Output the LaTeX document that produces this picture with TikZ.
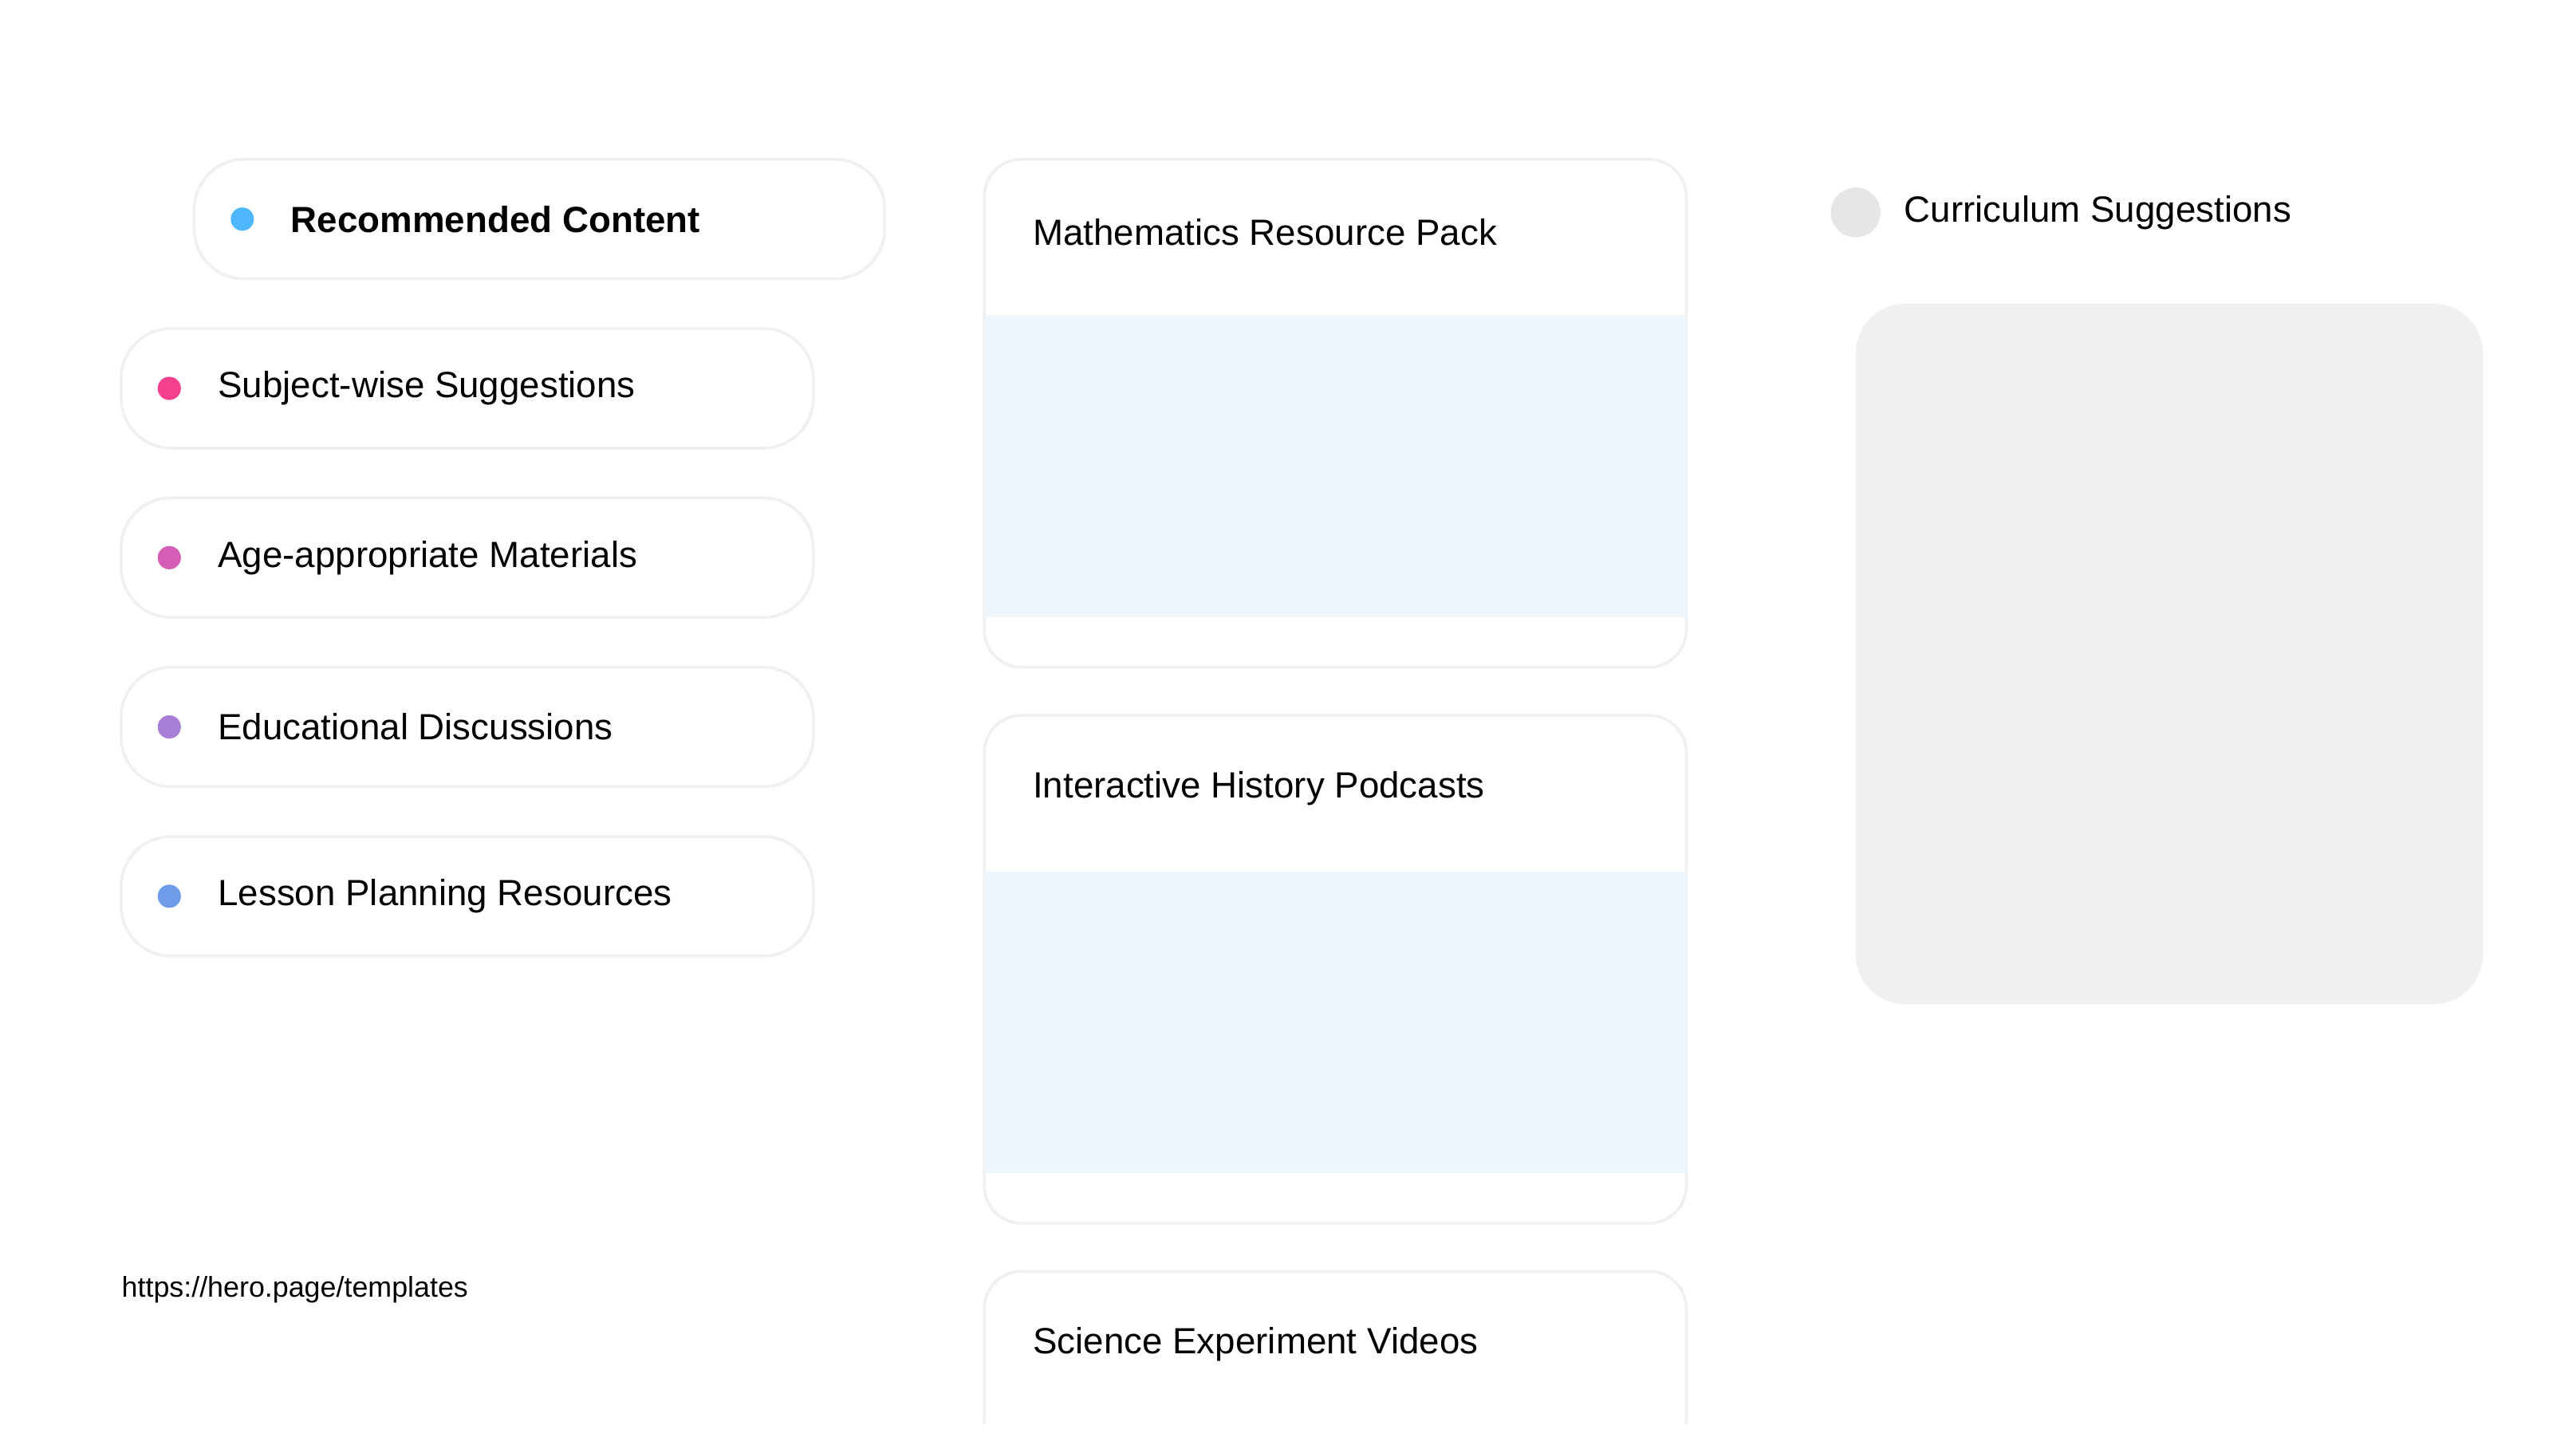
\documentclass[tikz,border=0pt]{standalone}
\usepackage{fontspec}
\setmainfont{Liberation Sans}
\definecolor{cblue}{HTML}{4DB8FF}
\definecolor{cpink}{HTML}{F5408F}
\definecolor{cmag}{HTML}{D45DB5}
\definecolor{cpurp}{HTML}{A87FD6}
\definecolor{cind}{HTML}{6F9BE8}
\definecolor{lblue}{HTML}{EEF6FD}
\definecolor{lgray}{HTML}{F0F0F0}
\definecolor{edge}{HTML}{F0F0F0}
\definecolor{dotg}{HTML}{E6E6E6}
\begin{document}
\begin{tikzpicture}[x=0.02cm,y=-0.02cm,
  pill/.style={draw=edge,line width=1pt,fill=white,rounded corners=0.6cm},
  card/.style={draw=edge,line width=1pt,fill=white,rounded corners=0.45cm},
  lbl/.style={anchor=west,inner sep=0pt,font=\fontsize{12.5pt}{15pt}\selectfont},
  dotc/.style={circle,inner sep=0pt,minimum size=0.28cm}]
\useasboundingbox[fill=white] (0,0) rectangle (1552,873);
% left pills
\draw[pill] (117,96) rectangle (533,168);
\node[dotc,fill=cblue] (d0) at (146,132) {};
\node[lbl,font=\bfseries\fontsize{12.5pt}{15pt}\selectfont] (t0) at (175,132) {Recommended Content};
\foreach \y/\c/\t [count=\i] in {234/cpink/Subject-wise Suggestions,336/cmag/Age-appropriate Materials,438/cpurp/Educational Discussions,540/cind/Lesson Planning Resources}{
  \draw[pill] (73,\y-36) rectangle (490,\y+36);
  \node[dotc,fill=\c] (d\i) at (102,\y) {};
  \node[lbl] (t\i) at (131,\y) {\t};
}
\node[anchor=west,inner sep=0pt,font=\fontsize{9.8pt}{12pt}\selectfont] (url) at (73,777) {https://hero.page/templates};
% cards
\foreach \y/\t [count=\i] in {96/Mathematics Resource Pack,431/Interactive History Podcasts}{
  \draw[card] (593,\y) rectangle (1016,\y+306);
  \fill[lblue] (593,\y+94) rectangle (1016,\y+276);
  \node[lbl] (c\i) at (622,\y+44) {\t};
}
\begin{scope}
\clip (580,750) rectangle (1030,858);
\draw[card] (593,766) rectangle (1016,1072);
\end{scope}
\node[lbl] (c3) at (622,810) {Science Experiment Videos};
% right
\node[circle,fill=dotg,inner sep=0pt,minimum size=0.6cm] (rc) at (1118,128) {};
\node[lbl] (rt) at (1147,128) {Curriculum Suggestions};
\fill[lgray,rounded corners=0.6cm] (1118,183) rectangle (1496,605);
\end{tikzpicture}
\end{document}
